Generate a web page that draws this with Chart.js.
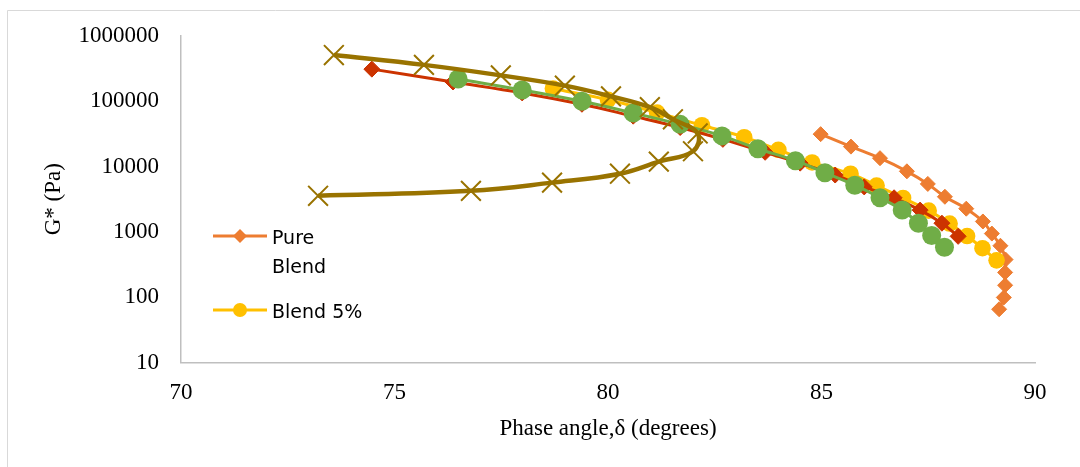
<!DOCTYPE html>
<html><head><meta charset="utf-8">
<script src="https://cdn.jsdelivr.net/npm/chart.js@4.4.1/dist/chart.umd.min.js"></script>
<style>html,body{margin:0;padding:0;background:#fff;overflow:hidden}#wrap{position:relative;width:1080px;height:467px}</style>
</head><body><div id="wrap"><canvas id="c" width="1080" height="467"></canvas></div>
<script>
// ---- data (phase angle in degrees, G* in Pa) ----
const pureBlendX = [84.98, 85.69, 86.37, 87.00, 87.49, 87.89, 88.39, 88.78, 88.99, 89.19, 89.31, 89.30, 89.30, 89.27, 89.16];
const pureBlendY = [31240, 20140, 13390, 8430, 5410, 3440, 2260, 1440, 940, 612, 376, 239, 152, 99, 65.3];

const blend5X = [78.71, 80.00, 81.15, 82.20, 83.19, 83.99, 84.78, 85.68, 86.29, 86.91, 87.51, 88.00, 88.41, 88.77, 89.10];
const blend5Y = [156400, 104800, 66600, 42800, 28050, 18020, 11530, 7750, 5100, 3300, 2110, 1340, 861, 561, 366];

const blendRedX = [74.47, 76.37, 77.99, 79.39, 80.59, 81.69, 82.69, 83.68, 84.50, 85.32, 86.00, 86.70, 87.31, 87.82, 88.20];
const blendRedY = [309000, 196300, 133700, 89600, 58900, 39500, 26000, 16500, 11250, 7400, 4870, 3320, 2150, 1355, 853];

const blendGreenX = [76.49, 77.99, 79.39, 80.59, 81.69, 82.67, 83.51, 84.39, 85.08, 85.78, 86.37, 86.89, 87.27, 87.58, 87.88];
const blendGreenY = [218000, 148500, 99500, 65900, 44100, 29400, 18650, 12270, 8020, 5170, 3320, 2160, 1355, 877, 581];

const blendOliveX = [73.58, 75.69, 77.49, 78.99, 80.07, 80.98, 81.52, 82.10, 81.99, 81.19, 80.28, 78.69, 76.79, 73.21];
const blendOliveY = [508000, 359000, 248000, 172600, 118400, 80700, 52700, 32000, 17100, 11860, 7750, 5660, 4240, 3560];

const seriesNames = ['Pure Blend', 'Blend 5%', 'Blend 10%', 'Blend 15%', 'Blend 20%'];
const yTicks = [10, 100, 1000, 10000, 100000, 1000000];
const xTicks = [70, 75, 80, 85, 90];

const pts = (xs, ys) => xs.map((x, i) => ({x: x, y: ys[i]}));
const serif = 'Liberation Serif, Times New Roman, serif';

const framePlugin = {
  id: 'frameLegend',
  beforeDraw(chart) {
    const ctx = chart.ctx;
    ctx.save();
    ctx.fillStyle = '#fff';
    ctx.fillRect(0, 0, chart.width, chart.height);
    ctx.strokeStyle = '#D9D9D9';
    ctx.lineWidth = 1;
    ctx.beginPath();
    ctx.moveTo(7.5, chart.height);
    ctx.lineTo(7.5, 10.5);
    ctx.lineTo(chart.width, 10.5);
    ctx.stroke();
    ctx.restore();
  },
  afterDraw(chart) {
    const ctx = chart.ctx;
    const ds = chart.data.datasets;
    const entries = [
      {d: ds[0], lineY: 236, lines: ['Pure', 'Blend'], base: 243.5},
      {d: ds[1], lineY: 310, lines: ['Blend 5%'], base: 318}
    ];
    ctx.save();
    entries.forEach(e => {
      const c = e.d.borderColor;
      ctx.strokeStyle = c;
      ctx.lineWidth = 3;
      ctx.beginPath();
      ctx.moveTo(213, e.lineY);
      ctx.lineTo(267, e.lineY);
      ctx.stroke();
      ctx.fillStyle = c;
      ctx.beginPath();
      if (e.d.pointStyle === 'rectRot') {
        const r = 7;
        ctx.moveTo(240 - r, e.lineY);
        ctx.lineTo(240, e.lineY - r);
        ctx.lineTo(240 + r, e.lineY);
        ctx.lineTo(240, e.lineY + r);
        ctx.closePath();
      } else {
        ctx.arc(240, e.lineY, 7, 0, Math.PI * 2);
      }
      ctx.fill();
      ctx.fillStyle = '#000';
      ctx.font = '19px "DejaVu Sans", sans-serif';
      ctx.textAlign = 'left';
      ctx.textBaseline = 'alphabetic';
      e.lines.forEach((t, i) => ctx.fillText(t, 272, e.base + i * 29));
    });
    ctx.restore();
  }
};

new Chart(document.getElementById('c'), {
  type: 'scatter',
  data: {
    datasets: [
      {label: seriesNames[0], data: pts(pureBlendX, pureBlendY), showLine: true, tension: 0.4,
       borderColor: '#ED7D31', backgroundColor: '#ED7D31', borderWidth: 3,
       pointStyle: 'rectRot', pointRadius: 7.5, pointBorderWidth: 1, order: 5},
      {label: seriesNames[1], data: pts(blend5X, blend5Y), showLine: true, tension: 0.4,
       borderColor: '#FFC000', backgroundColor: '#FFC000', borderWidth: 3,
       pointStyle: 'circle', pointRadius: 8.3, pointBorderWidth: 0, order: 4},
      {label: seriesNames[2], data: pts(blendRedX, blendRedY), showLine: true, tension: 0.4,
       borderColor: '#CC3300', backgroundColor: '#CC3300', borderWidth: 3,
       pointStyle: 'rectRot', pointRadius: 8, pointBorderWidth: 1, order: 3},
      {label: seriesNames[3], data: pts(blendGreenX, blendGreenY), showLine: true, tension: 0.4,
       borderColor: '#70AD47', backgroundColor: '#70AD47', borderWidth: 3,
       pointStyle: 'circle', pointRadius: 9.5, pointBorderWidth: 0, order: 2},
      {label: seriesNames[4], data: pts(blendOliveX, blendOliveY), showLine: true, tension: 0.4,
       borderColor: '#997300', backgroundColor: '#997300', borderWidth: 4.5,
       pointStyle: 'crossRot', pointRadius: 14, pointBorderWidth: 2, order: 1}
    ]
  },
  options: {
    responsive: false,
    animation: false,
    devicePixelRatio: 1,
    layout: {padding: {top: 32.3, right: 45, bottom: 0, left: 0}},
    plugins: {legend: {display: false}, tooltip: {enabled: false}},
    scales: {
      x: {
        type: 'linear', min: 70, max: 90,
        afterBuildTicks: s => { s.ticks = xTicks.map(v => ({value: v})); },
        afterFit: s => { s.height = 467 - 362.5; },
        ticks: {font: {family: serif, size: 23}, color: '#000', padding: 17, callback: v => String(v)},
        grid: {display: false, drawTicks: false},
        border: {display: true, color: '#BFBFBF', width: 1.5},
        title: {display: true, text: 'Phase angle,δ (degrees)', color: '#000',
                font: {family: serif, size: 23}, padding: {top: 0, bottom: 24}}
      },
      y: {
        type: 'logarithmic', min: 10, max: 1000000,
        afterBuildTicks: s => { s.ticks = yTicks.map(v => ({value: v})); },
        afterFit: s => { s.width = 181; },
        ticks: {font: {family: serif, size: 23}, color: '#000', padding: 22, callback: v => String(v)},
        grid: {display: false, drawTicks: false},
        border: {display: true, color: '#BFBFBF', width: 1.5},
        title: {display: true, text: 'G* (Pa)', color: '#000',
                font: {family: serif, size: 23}, padding: {top: 40, bottom: 0}}
      }
    }
  },
  plugins: [framePlugin]
});
</script></body></html>
